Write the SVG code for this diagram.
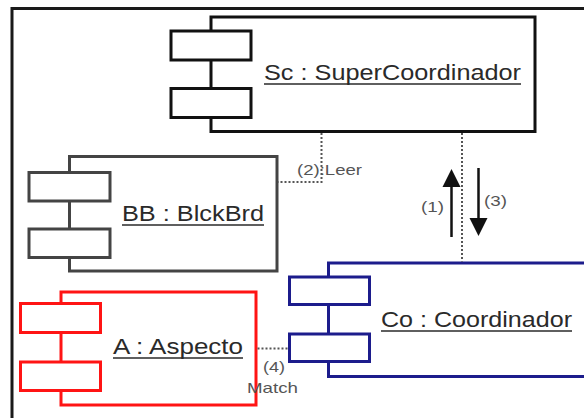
<svg xmlns="http://www.w3.org/2000/svg" width="584" height="418" viewBox="0 0 584 418">
<style>
.t{font-family:"Liberation Sans",Arial,sans-serif;font-size:22px;fill:#2a2a2a}
.s{font-family:"Liberation Sans",Arial,sans-serif;font-size:15px;fill:#555}
.ul{stroke:#2a2a2a;stroke-width:1.5}
.box{fill:#fff;stroke-width:3}
.dot{fill:none;stroke:#555;stroke-width:2;stroke-dasharray:2,2}
.arr{stroke:#111;stroke-width:2.5}
</style>
<rect width="584" height="418" fill="#fff"/>
<path d="M12,420 V8.5 H590" fill="none" stroke="#1a1a1a" stroke-width="3"/>
<g id="sc" stroke="#111">
<rect class="box" x="211" y="17" width="324" height="114.5"/>
<rect class="box" x="171" y="31" width="80" height="29"/>
<rect class="box" x="171" y="88.5" width="80" height="29"/>
<text class="t" x="264" y="80" textLength="257" lengthAdjust="spacingAndGlyphs" stroke="none">Sc : SuperCoordinador</text>
<line class="ul" x1="264" y1="84" x2="521" y2="84"/>
</g>
<g id="bb" stroke="#444">
<rect class="box" x="69.5" y="156.5" width="207.5" height="114.5" stroke-width="2"/>
<rect class="box" x="29" y="172.5" width="81" height="28.5" stroke-width="2"/>
<rect class="box" x="29" y="229" width="81" height="28.5" stroke-width="2"/>
<text class="t" x="122" y="221" textLength="142" lengthAdjust="spacingAndGlyphs" stroke="none">BB : BlckBrd</text>
<line class="ul" x1="122" y1="225" x2="264" y2="225"/>
</g>
<g id="co" stroke="#1c1c8c">
<rect class="box" x="328.5" y="263" width="280" height="113.5"/>
<rect class="box" x="289.5" y="277" width="80" height="27.5"/>
<rect class="box" x="289.5" y="334" width="80" height="27.5"/>
<text class="t" x="381" y="327" textLength="191" lengthAdjust="spacingAndGlyphs" stroke="none">Co : Coordinador</text>
<line class="ul" x1="381" y1="331" x2="572" y2="331"/>
</g>
<g id="a" stroke="#ff1414">
<rect class="box" x="61" y="292" width="195" height="113"/>
<rect class="box" x="20.5" y="303.5" width="80" height="29"/>
<rect class="box" x="20.5" y="362" width="80" height="28.5"/>
<text class="t" x="113" y="354" textLength="130" lengthAdjust="spacingAndGlyphs" stroke="none">A : Aspecto</text>
<line class="ul" x1="113" y1="358" x2="243" y2="358"/>
</g>
<g id="connectors">
<path class="dot" d="M321.5,133 V182 H278"/>
<path class="dot" d="M462,133 V261.5"/>
<path class="dot" d="M257.5,348.5 H288"/>
<line class="arr" x1="451.5" y1="237" x2="451.5" y2="184"/>
<polygon points="451.5,169 442.5,187 460.5,187" fill="#111"/>
<line class="arr" x1="478.5" y1="168" x2="478.5" y2="220"/>
<polygon points="478.5,236 469.5,218 487.5,218" fill="#111"/>
<text class="s" x="297" y="175" textLength="65" lengthAdjust="spacingAndGlyphs">(2):Leer</text>
<text class="s" x="421" y="212" textLength="23" lengthAdjust="spacingAndGlyphs">(1)</text>
<text class="s" x="484" y="206" textLength="23" lengthAdjust="spacingAndGlyphs">(3)</text>
<text class="s" x="263" y="372" textLength="22" lengthAdjust="spacingAndGlyphs">(4)</text>
<text class="s" x="247" y="393" textLength="51" lengthAdjust="spacingAndGlyphs">Match</text>
</g>
</svg>
